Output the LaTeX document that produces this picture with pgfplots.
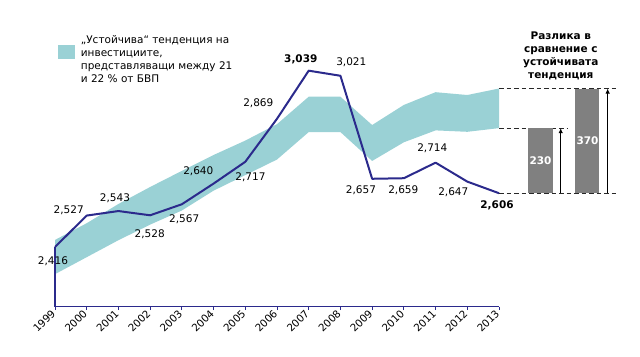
\documentclass[border=0pt]{standalone}
\usepackage{pgfplots}
\pgfplotsset{compat=1.18}
\usepgfplotslibrary{fillbetween}
\usetikzlibrary{arrows.meta}
\usepackage{fontspec}
\setmainfont{DejaVu Sans}
\definecolor{navy}{RGB}{43,42,140}
\definecolor{band}{RGB}{154,209,213}
\definecolor{bargray}{RGB}{128,128,128}
\definecolor{dashgray}{RGB}{40,40,40}
\newcommand\lbl{\fontsize{10.5bp}{13bp}\selectfont}

\begin{document}
\begin{tikzpicture}
\begin{axis}[at={(0,0)}, anchor=south west, scale only axis,
  width=444bp, height=254.7bp,
  xmin=0, xmax=14, ymin=2205, ymax=3105, clip=false,
  axis x line=bottom, axis y line=left,
  x axis line style={navy, line width=0.9bp, -},
  y axis line style={draw=none},
  ytick=\empty,
  xtick={0,1,2,3,4,5,6,7,8,9,10,11,12,13,14},
  xticklabels={1999,2000,2001,2002,2003,2004,2005,2006,2007,2008,2009,2010,2011,2012,2013},
  xticklabel style={font=\fontsize{10.3bp}{12bp}\selectfont, rotate=45, anchor=east, inner sep=2bp},
  major tick length=3.5bp, tick align=outside,
  x tick style={navy, line width=0.8bp},
]
% sustainable band (21%..22% of GDP)
\addplot[name path=top, draw=none] coordinates {
 (0,2441) (1,2500) (2,2568) (3,2628) (4,2685) (5,2741) (6,2792) (7,2850)
 (8,2947) (9,2947) (10,2847) (11,2918) (12,2963) (13,2953) (14,2976)};
\addplot[name path=bot, draw=none] coordinates {
 (0,2320) (1,2380) (2,2440) (3,2495) (4,2545) (5,2615) (6,2670) (7,2725)
 (8,2822) (9,2822) (10,2720) (11,2786) (12,2828) (13,2823) (14,2836)};
\addplot[band, draw=none] fill between[of=top and bot];
% dashed guides
\addplot[dashgray, line width=1.1bp, dash pattern=on 4.5bp off 3bp] coordinates {(14,2976) (17.69,2976)};
\addplot[dashgray, line width=1.1bp, dash pattern=on 4.5bp off 3bp] coordinates {(14,2836) (16.19,2836)};
\addplot[dashgray, line width=1.1bp, dash pattern=on 4.5bp off 3bp] coordinates {(14,2606) (17.69,2606)};
% difference bars
\addplot[fill=bargray, draw=none] coordinates {(14.915,2606) (15.703,2606) (15.703,2836) (14.915,2836)} -- cycle;
\addplot[fill=bargray, draw=none] coordinates {(16.397,2606) (17.153,2606) (17.153,2976) (16.397,2976)} -- cycle;
\addplot[black, line width=1.3bp, -{Latex[length=5bp,width=4.5bp]}] coordinates {(15.946,2606) (15.946,2836)};
\addplot[black, line width=1.3bp, -{Latex[length=5bp,width=4.5bp]}] coordinates {(17.426,2606) (17.426,2976)};
% actual investment
\addplot[navy, line width=1.1bp] coordinates {(0,2205) (0,2416)};
\addplot[navy, line width=2bp, line join=round] coordinates {
 (0,2416) (1,2527) (2,2543) (3,2528) (4,2567) (5,2640) (6,2717) (7,2869)
 (8,3039) (9,3021) (10,2657) (11,2659) (12,2714) (13,2647) (14,2606)};
\end{axis}
\begin{scope}[x=1bp,y=1bp,every node/.style={inner sep=0pt, font=\lbl}]
\fill[band] (3,247.7) rectangle (20,261.7);
\node[anchor=north west, align=left] at (25.7,271.7) {„Устойчива“ тенденция на\\инвестициите,\\представляващи между 21\\и 22 \% от БВП};
\node[anchor=north, align=center, font=\lbl\bfseries] at (505.8,275) {Разлика в\\сравнение с\\устойчивата\\тенденция};
\node at (-2,45) {2,416};
\node at (13.7,96.7) {2,527};
\node at (60,108.4) {2,543};
\node at (94.7,72.7) {2,528};
\node at (129.2,87.7) {2,567};
\node at (143.3,135.7) {2,640};
\node at (195.5,129.4) {2,717};
\node at (203.3,203.4) {2,869};
\node[font=\lbl\bfseries] at (245.8,247.4) {3,039};
\node at (296.3,244) {3,021};
\node at (306,116.7) {2,657};
\node at (348.3,116) {2,659};
\node at (377.3,158.4) {2,714};
\node at (398.3,114) {2,647};
\node[font=\lbl\bfseries] at (442,101.7) {2,606};
\node[font=\lbl\bfseries, text=white] at (485.5,145.7) {230};
\node[font=\lbl\bfseries, text=white] at (532.5,165.7) {370};
\end{scope}
\pgfresetboundingbox
\useasboundingbox (-55bp,-50.3bp) rectangle (585bp,306.7bp);
\end{tikzpicture}
\end{document}
